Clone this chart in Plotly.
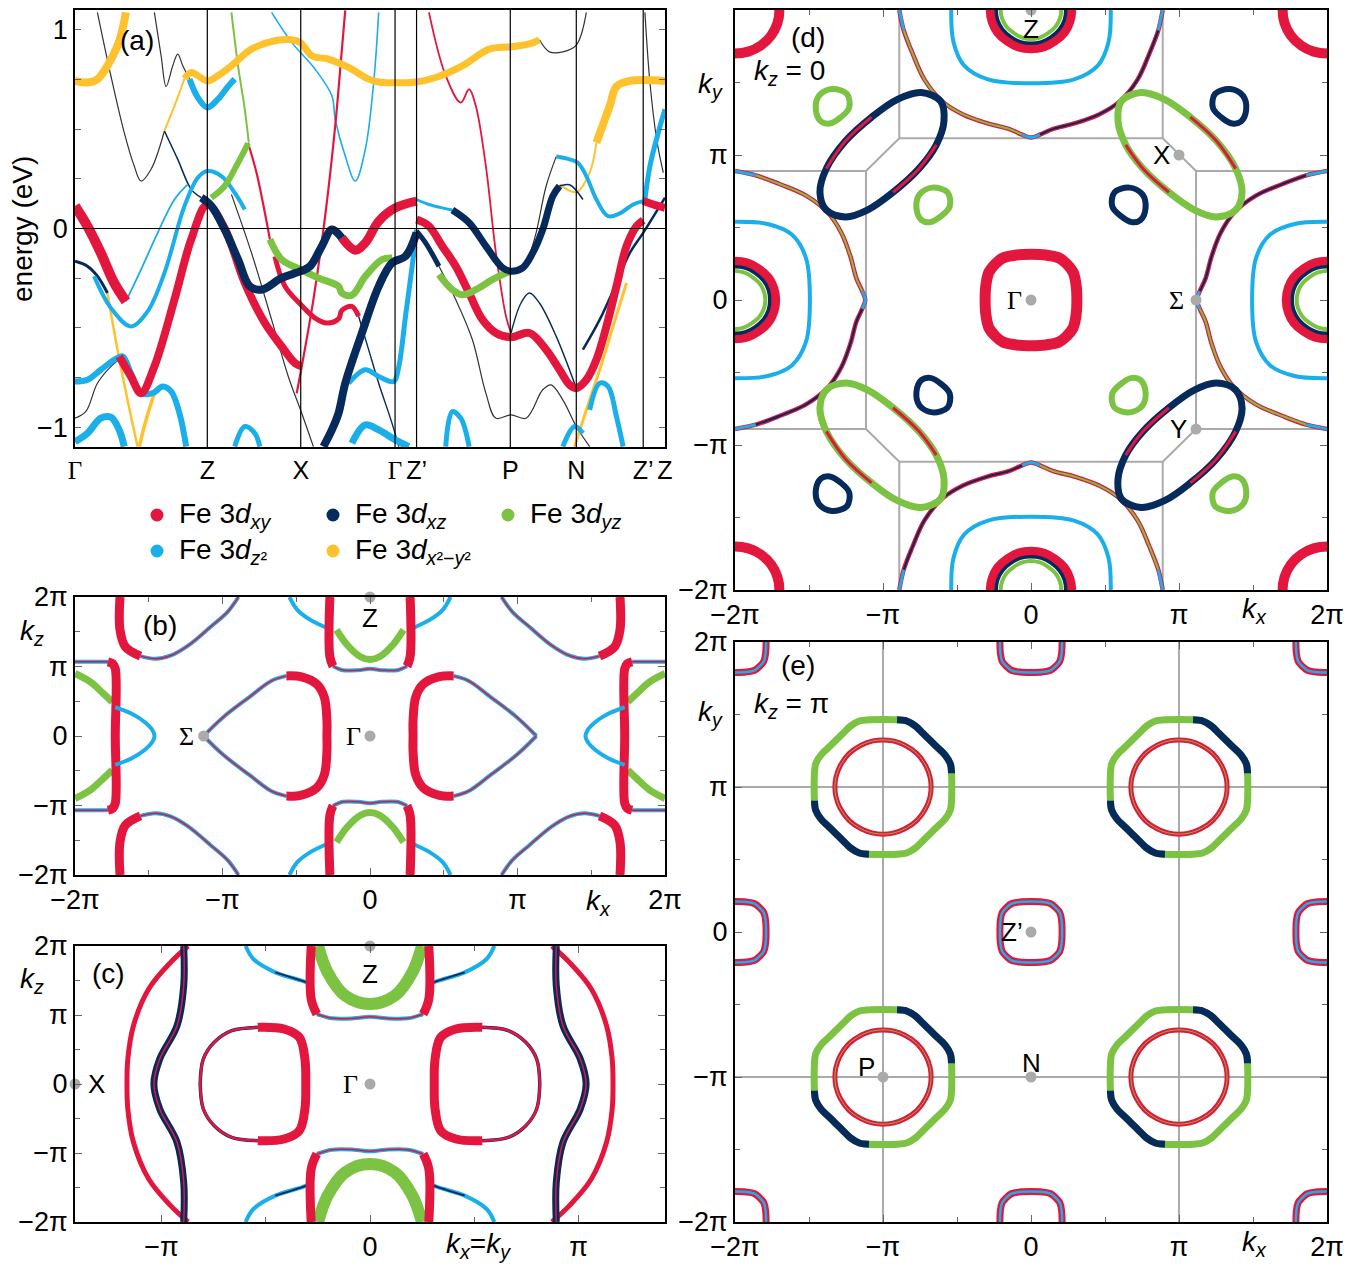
import plotly.graph_objects as go

W, H = 1360, 1268
OFF = 8                      # page body margin of the written html
FW, FH = W - OFF, H - OFF    # figure size so that it fits the window exactly
RED = '#E3173E'
NAVY = '#062A5B'
GREEN = '#7CC243'
CYAN = '#1AAEEA'
YELLOW = '#FEC22E'
GRAY = '#AAAAAA'
THIN = '#333333'
FONT = 'Liberation Sans, Arial, sans-serif'
SERIF = 'Liberation Serif'

# ---------------- panel (a): band structure (k-path units, energy eV) ----------------
kpath_ticks = [0, 131.7, 224.7, 318.6, 340, 433.3, 499, 565.6, 587.3]
kpath_labels = ['Γ', 'Z', 'X', 'Γ', 'Z’', 'P', 'N', 'Z’', 'Z']

y1_k = [0, 12.3, 22.3, 32.3, 42.3, 47.3, 50.7]
y1_e = [0.743, 0.735, 0.752, 0.819, 0.920, 1.004, 1.088]
y2a_k = [89, 99, 109]
y2a_e = [0.491, 0.617, 0.755]
y2_k = [109, 115.7, 122.3, 131.7, 142.3, 155.7, 175.7, 199, 215.7, 224.7, 235.7, 252.3, 272.3,
        292.3, 302.3, 340, 359, 385.6, 412.3, 434, 452.3, 462.3]
y2_e = [0.755, 0.785, 0.769, 0.743, 0.769, 0.819, 0.903, 0.945, 0.950, 0.935, 0.870, 0.853, 0.811,
        0.752, 0.738, 0.738, 0.760, 0.819, 0.903, 0.915, 0.929, 0.950]
y2t_k = [462.3, 472.3, 485.6, 499, 509]
y2t_e = [0.950, 0.889, 0.889, 0.923, 1.088]
y5t_k = [482.3, 499, 512.3, 519]
y5t_e = [0.222, 0.183, 0.281, 0.432]
y5_k = [519, 532.3, 539, 552.3, 587.3]
y5_e = [0.432, 0.617, 0.715, 0.743, 0.743]
l1_k = [22.3, 35.7, 49, 59, 65.7, 75.7, 89]
l1_e = [1.088, 0.769, 0.483, 0.314, 0.239, 0.298, 0.491]
l2_k = [79, 85.7, 90.7, 97.3, 102.3, 107.3, 114]
l2_e = [1.088, 0.870, 0.715, 0.819, 0.878, 0.819, 0.752]
c2_k = [114, 122.3, 131.7, 142.3, 152.3, 159]
c2_e = [0.752, 0.659, 0.609, 0.651, 0.715, 0.752]
c1_k = [19, 35.7, 55.7, 72.3, 89, 109, 122.3, 131.7, 145.7, 159, 169]
c1_e = [-0.240, -0.400, -0.493, -0.417, -0.224, 0.113, 0.256, 0.289, 0.264, 0.180, 0.096]
n1_k = [0, 12.3, 22.3, 32.3]
n1_e = [-0.165, -0.190, -0.240, -0.325]
y3_k = [32.3, 42.3, 52.3, 62.3]
y3_e = [-0.325, -0.610, -0.863, -1.098]
r1_k = [0, 12.3, 25.7, 39, 50.7]
r1_e = [0.113, 0.012, -0.123, -0.274, -0.367]
l4_k = [50.7, 65.7, 82.3, 99, 112.3]
l4_e = [-0.367, -0.207, -0.022, 0.146, 0.222]
l3_k = [89, 102.3, 115.7, 125.7]
l3_e = [0.491, 0.348, 0.197, 0.155]
n2_k = [125.7, 135.7, 149, 162.3, 174, 185.7, 205.7, 224.7, 234, 245.7, 255.7, 265.6]
n2_e = [0.155, 0.113, -0.005, -0.156, -0.291, -0.308, -0.249, -0.215, -0.190, -0.089, -0.005, -0.047]
r3_k = [265.6, 279, 289, 302.3, 319, 340]
r3_e = [-0.047, -0.109, -0.072, 0.037, 0.104, 0.138]
z1_k = [340, 352.3, 365.6, 375.6]
z1_e = [0.146, 0.121, 0.104, 0.093]
n5_k = [375.6, 392.3, 409, 425.6, 434, 445.6, 455.6, 465.6, 475.6, 482.3]
n5_e = [0.093, 0.029, -0.089, -0.198, -0.215, -0.198, -0.123, -0.005, 0.163, 0.214]
n5t_k = [482.3, 492.3, 505.6]
n5t_e = [0.214, 0.220, 0.146]
c3a_k = [449, 459, 469, 479]
c3a_e = [-0.190, -0.022, 0.214, 0.362]
c3_k = [479, 492.3, 500.6, 509, 519, 530.6, 542.3, 555.6, 565.6]
c3_e = [0.362, 0.348, 0.331, 0.264, 0.146, 0.062, 0.076, 0.121, 0.138]
r5_k = [565.6, 575.6, 587.3]
r5_e = [0.138, 0.121, 0.104]
r4_k = [340, 352.3, 365.6, 379, 392.3, 405.6, 419, 434, 452.3, 469, 482.3, 492.3, 499, 509, 519,
        529, 539, 549, 559, 565.6]
r4_e = [0.045, 0.012, -0.089, -0.190, -0.325, -0.459, -0.526, -0.547, -0.526, -0.610, -0.711,
        -0.787, -0.804, -0.762, -0.661, -0.493, -0.291, -0.089, 0.012, 0.042]
n6_k = [340, 349, 362.3]
n6_e = [-0.013, -0.072, -0.190]
l5_k = [362.3, 379, 395.6, 409, 419, 434, 449, 465.6, 474, 485.6, 499, 512.3]
l5_e = [-0.190, -0.358, -0.560, -0.829, -0.955, -0.938, -0.955, -0.812, -0.787, -0.863, -0.997, -1.098]
g3_k = [362.3, 375.6, 385.6, 399, 415.6, 429, 434]
g3_e = [-0.232, -0.308, -0.333, -0.308, -0.257, -0.224, -0.215]
l6_k = [352.3, 369, 384, 392.3, 399, 409, 419, 429, 434]
l6_e = [1.088, 0.769, 0.634, 0.701, 0.617, 0.314, -0.123, -0.442, -0.526]
l7_k = [434, 444, 452.3, 462.3, 479, 499]
l7_e = [-0.526, -0.375, -0.325, -0.375, -0.543, -0.804]
l8_k = [195.7, 215.7, 239, 255.7, 259, 269, 279, 289, 297.3, 302.3]
l8_e = [1.088, 0.937, 0.802, 0.668, 0.550, 0.365, 0.239, 0.399, 0.735, 1.088]
l9_k = [220.7, 225.7, 237.3, 249, 259, 265.7, 269]
l9_e = [-0.829, -0.695, -0.358, 0.062, 0.516, 0.903, 1.098]
l10_k = [155.7, 175.7, 195.7, 212.3, 225.7, 237.3]
l10_e = [0.172, -0.123, -0.459, -0.745, -0.930, -1.098]
g0_k = [155.7, 162.3, 169, 173]
g0_e = [1.088, 0.819, 0.600, 0.432]
g1a_k = [135.7, 149, 162.3, 172.3]
g1a_e = [0.155, 0.214, 0.331, 0.429]
g1b_k = [172.3, 180.7, 189, 194]
g1b_e = [0.429, 0.281, 0.079, -0.055]
g1c_k = [194, 205.7, 224.7, 242.3, 262.3, 265.6, 275.6, 289, 305.6, 315.6]
g1c_e = [-0.055, -0.156, -0.207, -0.249, -0.291, -0.325, -0.336, -0.241, -0.156, -0.148]
r6_k = [199, 209, 224.7, 239, 250.7, 262.3, 265.6, 275.6, 282.3]
r6_e = [-0.140, -0.291, -0.383, -0.451, -0.476, -0.455, -0.413, -0.392, -0.442]
l11_k = [282.3, 292.3, 302.3, 315.6, 322.3]
l11_e = [-0.442, -0.610, -0.779, -0.981, -1.098]
r2_k = [44, 55.7, 65.7, 79, 99, 115.7, 131.7, 149, 169, 189, 205.7, 219, 225.7]
r2_e = [-0.644, -0.745, -0.829, -0.695, -0.358, -0.055, 0.121, 0.000, -0.274, -0.476, -0.594, -0.678, -0.695]
c4_k = [0, 12.3, 25.7, 39, 47.3, 55.7, 65.7, 77.3, 87.3, 95.7, 104, 110.7]
c4_e = [-0.770, -0.762, -0.711, -0.661, -0.644, -0.728, -0.829, -0.829, -0.795, -0.820, -0.930, -1.098]
c5_k = [0, 12.3, 25.7, 35.7, 44, 49]
c5_e = [-1.073, -1.031, -0.955, -0.950, -1.014, -1.098]
l12_k = [0, 10.7, 22.3, 35.7, 49]
l12_e = [-0.955, -0.922, -0.779, -0.695, -0.641]
c6_k = [159, 169, 179, 184]
c6_e = [-1.098, -0.997, -1.031, -1.098]
y4_k = [64, 70.7, 79]
y4_e = [-1.098, -0.964, -0.829]
n3_k = [247.3, 255.7, 262.3, 269, 285.6, 302.3, 315.6, 329, 340]
n3_e = [-1.098, -1.014, -0.930, -0.779, -0.526, -0.291, -0.173, -0.140, -0.022]
c7_k = [272.3, 289, 302.3, 317.3, 322.3, 329, 335.6, 340]
c7_e = [-0.779, -0.711, -0.745, -0.770, -0.695, -0.442, -0.190, -0.005]
c8_k = [275.6, 289, 302.3, 319, 332.3]
c8_e = [-1.081, -0.989, -1.014, -1.065, -1.098]
c9_k = [369, 375.6, 384, 392.3]
c9_e = [-1.098, -0.922, -0.955, -1.098]
c10a_k = [485.6, 497.3, 505.6]
c10a_e = [-1.098, -0.997, -1.031]
c10b_k = [512.3, 522.3, 530.6, 539, 545.6]
c10b_e = [-0.913, -0.779, -0.795, -0.947, -1.098]
y6_k = [497.3, 509, 522.3, 535.6, 549]
y6_e = [-1.098, -0.913, -0.711, -0.493, -0.274]
c11_k = [567.3, 572.3, 580.6, 587.3]
c11_e = [0.146, 0.314, 0.483, 0.600]
l13_k = [567.3, 572.3, 579, 585.6]
l13_e = [1.088, 0.735, 0.449, 0.281]
n7_k = [505.6, 522.3, 539, 552.3, 565.6, 587.3]
n7_e = [-0.610, -0.459, -0.274, -0.123, -0.022, 0.155]

# ---------------- panel (b): kz vs kx (units of pi) ----------------
b_u_x = [-1.695, -1.695, -1.659, -1.556, -1.453, -1.349, -1.231, -1.084, -0.965, -0.892]
b_u_y = [2.0, 1.527, 1.285, 1.150, 1.111, 1.159, 1.304, 1.565, 1.787, 2.0]
b_top_x = [-0.272, -0.272, -0.251, -0.183, -0.080, 0.0]
b_top_y = [2.0, 1.14, 1.005, 0.947, 0.947, 0.966]
b_topg_x = [-0.227, -0.154, -0.065, 0.0]
b_topg_y = [1.527, 1.309, 1.14, 1.101]
b_topc_x = [-0.546, -0.493, -0.404, -0.272]
b_topc_y = [2.0, 1.816, 1.671, 1.536]
b_side_x = [-1.777, -1.745, -1.727, -1.727]
b_side_y = [1.068, 1.040, 0.97, 0.0]
b_sideg_x = [-2.0, -1.896, -1.807, -1.748]
b_sideg_y = [0.899, 0.778, 0.609, 0.488]
b_sidec_x = [-1.727, -1.615, -1.526, -1.473, -1.461]
b_sidec_y = [0.415, 0.319, 0.198, 0.077, 0.0]
b_oval_x = [-1.128, -0.995, -0.818, -0.670, -0.567, -0.464, -0.360, -0.310, -0.292, -0.292]
b_oval_y = [0.0, 0.271, 0.560, 0.792, 0.865, 0.850, 0.744, 0.560, 0.222, 0.0]

# ---------------- panel (c): kz vs kx=ky ----------------
c_outer_x = [-0.872, -0.956, -1.061, -1.134, -1.161, -1.165]
c_outer_y = [2.0, 1.763, 1.377, 0.845, 0.362, 0.0]
c_navy_x = [-0.893, -0.893, -0.925, -1.008, -1.036]
c_navy_y = [2.0, 1.425, 0.845, 0.362, 0.0]
c_oval_x = [-0.814, -0.799, -0.747, -0.663, -0.538, -0.412, -0.339, -0.312, -0.308]
c_oval_y = [0.0, 0.362, 0.604, 0.773, 0.821, 0.797, 0.676, 0.362, 0.0]
c_top_x = [-0.282, -0.282, -0.255, -0.182, -0.077, 0.0]
c_top_y = [2.0, 1.232, 1.014, 0.952, 0.952, 0.976]
c_topg_x = [-0.249, -0.203, -0.119, 0.0]
c_topg_y = [2.0, 1.618, 1.28, 1.159]
c_topc_x = [-0.596, -0.559, -0.454, -0.328, -0.282]
c_topc_y = [2.0, 1.812, 1.618, 1.498, 1.449]

# ---------------- panel (d): ky vs kx at kz=0 ----------------
d_bz = [0.89, 1.115]
d_gamma_x = [0.31, 0.305, 0.285, 0.24, 0.19, 0.10, 0.0]
d_gamma_y = [0.0, 0.10, 0.19, 0.25, 0.29, 0.31, 0.315]
d_cyan_x = [-0.539, -0.524, -0.451, -0.291, 0.0]
d_cyan_y = [2.0, 1.780, 1.616, 1.521, 1.494]
d_arm_x = [-0.89, -0.86, -0.80, -0.72, -0.60, -0.46, -0.30, -0.15, -0.06, 0.0]
d_arm_y = [2.0, 1.86, 1.70, 1.52, 1.37, 1.28, 1.22, 1.18, 1.14, 1.12]
d_ell_x = [-0.611, -0.588, -0.640, -0.757, -0.932, -1.106, -1.252, -1.383, -1.426, -1.383,
           -1.252, -1.077, -0.902, -0.742, -0.611]
d_ell_y = [1.371, 1.234, 1.070, 0.906, 0.743, 0.620, 0.573, 0.620, 0.743, 0.906,
           1.098, 1.261, 1.384, 1.431, 1.371]
d_pocket_r = [0.66, 1.34]
d_pocket_dx = [-0.096, 0.006, 0.093, 0.114, 0.079, 0.020, -0.052, -0.111, -0.096]
d_pocket_dy = [0.082, 0.115, 0.068, -0.027, -0.109, -0.123, -0.082, -0.014, 0.082]
d_edge_x = [0.275, 0.262, 0.225, 0.16, 0.085, 0.0]
d_edge_y = [0.0, 0.082, 0.155, 0.215, 0.255, 0.268]
d_edge1_x = [0.235, 0.225, 0.19, 0.135, 0.07, 0.0]
d_edge1_y = [0.0, 0.07, 0.135, 0.185, 0.22, 0.23]
d_edge2_x = [0.205, 0.195, 0.165, 0.115, 0.06, 0.0]
d_edge2_y = [0.0, 0.06, 0.115, 0.16, 0.19, 0.2]
d_corner_x = [0.30, 0.287, 0.245, 0.175, 0.09, 0.0]
d_corner_y = [0.0, 0.09, 0.175, 0.245, 0.287, 0.30]

# ---------------- panel (e): ky vs kx at kz=pi ----------------
e_lines = [-1, 1]
e_ring_x = [0.465, 0.463, 0.455, 0.42, 0.37, 0.32, 0.27, 0.22, 0.16, 0.095, 0.0]
e_ring_y = [0.0, 0.095, 0.16, 0.22, 0.27, 0.32, 0.37, 0.42, 0.455, 0.463, 0.465]
e_inner_x = [0.325, 0.318, 0.29, 0.23, 0.145, 0.067, 0.0]
e_inner_y = [0.0, 0.067, 0.145, 0.23, 0.29, 0.318, 0.325]
e_zp_x = [0.21, 0.207, 0.195, 0.167, 0.133, 0.076, 0.0]
e_zp_y = [0.0, 0.076, 0.133, 0.167, 0.195, 0.207, 0.21]
e_ring_centers = [(-1, 1), (1, 1), (-1, -1), (1, -1)]
e_zp_centers = [(0, 0), (0, 2), (0, -2), (2, 0), (-2, 0), (2, 2), (2, -2), (-2, 2), (-2, -2)]

# ------------------------------------------------------------------
fig = go.Figure()


def add(ax, xs, ys, color, width, shape='spline'):
    fig.add_trace(go.Scatter(x=list(xs), y=list(ys), mode='lines',
                             line=dict(color=color, width=width, shape=shape, smoothing=1.0),
                             xaxis='x' + ax, yaxis='y' + ax, hoverinfo='skip', showlegend=False))


def dot(ax, xs, ys):
    fig.add_trace(go.Scatter(x=xs, y=ys, mode='markers', marker=dict(color=GRAY, size=11),
                             cliponaxis=False, xaxis='x' + ax, yaxis='y' + ax,
                             hoverinfo='skip', showlegend=False))


def mirror_x(xs, ys):
    return list(xs) + [-x for x in xs[-2::-1]], list(ys) + list(ys[-2::-1])


def mirror_y(xs, ys):
    return list(xs) + list(xs[-2::-1]), list(ys) + [-y for y in ys[-2::-1]]


def loop4(qx, qy):
    X = list(qx) + [-x for x in qx[-2::-1]] + [-x for x in qx[1:]] + [x for x in qx[-2::-1]]
    Y = list(qy) + list(qy[-2::-1]) + [-y for y in qy[1:]] + [-y for y in qy[-2::-1]]
    return X, Y


def shift(xs, ys, cx, cy):
    return [x + cx for x in xs], [y + cy for y in ys]


# ---------------- draw (a) ----------------
A = ''
for k, e, c, w in [
    (l1_k, l1_e, THIN, 1.2), (l2_k, l2_e, THIN, 1.2), (l3_k, l3_e, NAVY, 1.5), (l4_k, l4_e, CYAN, 1.8),
    (y2a_k, y2a_e, YELLOW, 2), (y2t_k, y2t_e, THIN, 1.2), (y5t_k, y5t_e, YELLOW, 2),
    (l5_k, l5_e, THIN, 1.2), (l6_k, l6_e, RED, 1.8), (l7_k, l7_e, NAVY, 1.4), (l8_k, l8_e, CYAN, 1.6),
    (l9_k, l9_e, RED, 2.2), (l10_k, l10_e, THIN, 1.2), (g0_k, g0_e, GREEN, 2), (g1b_k, g1b_e, RED, 2.2),
    (l11_k, l11_e, NAVY, 1.4), (l12_k, l12_e, THIN, 1.2), (y3_k, y3_e, YELLOW, 2.5), (y4_k, y4_e, YELLOW, 3.5),
    (n1_k, n1_e, NAVY, 3), (c3a_k, c3a_e, THIN, 1.2), (l13_k, l13_e, THIN, 1.2), (n7_k, n7_e, NAVY, 2.5),
    (z1_k, z1_e, CYAN, 3), (y6_k, y6_e, YELLOW, 3), (n5t_k, n5t_e, NAVY, 1.5),
]:
    add(A, k, e, c, w)
for k, e, c, w in [
    (c1_k, c1_e, CYAN, 4), (c2_k, c2_e, CYAN, 6), (c3_k, c3_e, CYAN, 4), (c4_k, c4_e, CYAN, 6),
    (c5_k, c5_e, CYAN, 7), (c6_k, c6_e, CYAN, 5), (c7_k, c7_e, CYAN, 5), (c8_k, c8_e, CYAN, 7),
    (c9_k, c9_e, CYAN, 5), (c10a_k, c10a_e, CYAN, 5), (c10b_k, c10b_e, CYAN, 5), (c11_k, c11_e, CYAN, 5),
    (y1_k, y1_e, YELLOW, 8), (y2_k, y2_e, YELLOW, 7), (y5_k, y5_e, YELLOW, 8),
    (r1_k, r1_e, RED, 10), (r2_k, r2_e, RED, 8), (r3_k, r3_e, RED, 9), (r4_k, r4_e, RED, 8),
    (r5_k, r5_e, RED, 8), (r6_k, r6_e, RED, 5),
    (g1a_k, g1a_e, GREEN, 6), (g1c_k, g1c_e, GREEN, 7), (g3_k, g3_e, GREEN, 7),
    (n2_k, n2_e, NAVY, 8), (n3_k, n3_e, NAVY, 8), (n5_k, n5_e, NAVY, 7), (n6_k, n6_e, NAVY, 5),
]:
    add(A, k, e, c, w)

# ---------------- draw (b) ----------------
B = '2'
for sx in (1, -1):
    for sy in (1, -1):
        X = [sx * x for x in b_u_x]; Y = [sy * y for y in b_u_y]
        add(B, X[3:], Y[3:], CYAN, 4); add(B, X[3:], Y[3:], RED, 1.5)
        add(B, X[:4], Y[:4], RED, 9)
        gx = [sx * x for x in b_sideg_x]; gy = [sy * y for y in b_sideg_y]
        add(B, gx, gy, GREEN, 7)
        add(B, [sx * -2.0, sx * b_side_x[0]], [sy * b_side_y[0]] * 2, CYAN, 4, 'linear')
        add(B, [sx * -2.0, sx * b_side_x[0]], [sy * b_side_y[0]] * 2, RED, 1.5, 'linear')
        add(B, [sx * x for x in b_topc_x], [sy * y for y in b_topc_y], CYAN, 4)
for sy in (1, -1):
    ux, uy = mirror_x(b_top_x, b_top_y)
    Y = [sy * y for y in uy]
    add(B, ux[2:-2], Y[2:-2], CYAN, 4); add(B, ux[2:-2], Y[2:-2], RED, 1.5)
    add(B, ux[:3], Y[:3], RED, 9); add(B, ux[-3:], Y[-3:], RED, 9)
    gx, gy = mirror_x(b_topg_x, b_topg_y)
    add(B, gx, [sy * y for y in gy], GREEN, 7)
for sx in (1, -1):
    fx, fy = mirror_y(b_side_x, b_side_y)
    add(B, [sx * x for x in fx], fy, RED, 9)
    cx, cy = mirror_y(b_sidec_x, b_sidec_y)
    add(B, [sx * x for x in cx], cy, CYAN, 4)
    ox, oy = mirror_y(b_oval_x, b_oval_y)
    ox = [sx * x for x in ox]
    n = len(ox)
    add(B, ox[:5], oy[:5], CYAN, 4); add(B, ox[:5], oy[:5], RED, 1.5)
    add(B, ox[n - 5:], oy[n - 5:], CYAN, 4); add(B, ox[n - 5:], oy[n - 5:], RED, 1.5)
    add(B, ox[4:n - 4], oy[4:n - 4], RED, 9)
dot(B, [0, 0, b_oval_x[0]], [2, 0, 0])

# ---------------- draw (c) ----------------
C = '3'
for sx in (1, -1):
    ox, oy = mirror_y(c_outer_x, c_outer_y)
    add(C, [sx * x for x in ox], oy, RED, 5)
    nx, ny = mirror_y(c_navy_x, c_navy_y)
    add(C, [sx * x for x in nx], ny, NAVY, 7)
    add(C, [sx * x for x in nx], ny, RED, 1.5)
    vx, vy = mirror_y(c_oval_x, c_oval_y)
    vx = [sx * x for x in vx]
    n = len(vx)
    add(C, vx[:5], vy[:5], NAVY, 3.5); add(C, vx[:5], vy[:5], RED, 2.5)
    add(C, vx[n - 5:], vy[n - 5:], NAVY, 3.5); add(C, vx[n - 5:], vy[n - 5:], RED, 2.5)
    add(C, vx[4:n - 4], vy[4:n - 4], RED, 9)
    for sy in (1, -1):
        add(C, [sx * x for x in c_topc_x], [sy * y for y in c_topc_y], CYAN, 4)
        add(C, [sx * x for x in c_topc_x[2:]], [sy * y for y in c_topc_y[2:]], NAVY, 2)
for sy in (1, -1):
    gx, gy = mirror_x(c_topg_x, c_topg_y)
    add(C, gx, [sy * y for y in gy], GREEN, 12)
    ux, uy = mirror_x(c_top_x, c_top_y)
    Y = [sy * y for y in uy]
    add(C, ux[2:-2], Y[2:-2], CYAN, 4); add(C, ux[2:-2], Y[2:-2], RED, 1.5)
    add(C, ux[:3], Y[:3], RED, 9); add(C, ux[-3:], Y[-3:], RED, 9)
dot(C, [0, 0, -1.4142], [2, 0, 0])

# ---------------- draw (d) ----------------
D = '4'
cx_, cy_ = mirror_x(d_cyan_x, d_cyan_y)
ax_, ay_ = mirror_x(d_arm_x, d_arm_y)
orients = [lambda x, y: (x, y), lambda x, y: (x, -y), lambda x, y: (y, x), lambda x, y: (-y, x)]
for f in orients:
    P = [f(x, y) for x, y in zip(cx_, cy_)]
    add(D, [p[0] for p in P], [p[1] for p in P], CYAN, 4)
for f in orients:
    P = [f(x, y) for x, y in zip(ax_, ay_)]
    X = [p[0] for p in P]; Y = [p[1] for p in P]
    add(D, X, Y, RED, 4.5)
    for seg in (slice(1, 9), slice(10, 18)):
        xs = X[seg]; ys = Y[seg]
        col = GREEN if xs[len(xs) // 2] * ys[len(ys) // 2] < 0 else NAVY
        add(D, xs, ys, col, 2)
    add(D, X[0:2], Y[0:2], CYAN, 3); add(D, X[-2:], Y[-2:], CYAN, 3)
    add(D, X[8:11], Y[8:11], CYAN, 3)
for sx in (1, -1):
    for sy in (1, -1):
        col = GREEN if sx * sy > 0 else NAVY
        ex = [-sx * x for x in d_ell_x]; ey = [sy * y for y in d_ell_y]
        add(D, ex, ey, col, 7)
        add(D, ex[2:5], ey[2:5], RED, 3); add(D, ex[9:12], ey[9:12], RED, 3)
        pcol = GREEN if sx * sy > 0 else NAVY
        for r in d_pocket_r:
            ccx = -sx * r; ccy = sy * r
            add(D, [ccx - sx * dx for dx in d_pocket_dx], [ccy + sy * dy for dy in d_pocket_dy], pcol, 6)
gx, gy = loop4(d_gamma_x, d_gamma_y)
add(D, gx, gy, RED, 11)
for (px0, py0) in [(0, 2), (0, -2), (2, 0), (-2, 0)]:
    X, Y = shift(*loop4(d_edge_x, d_edge_y), px0, py0)
    add(D, X, Y, RED, 9)
    X, Y = shift(*loop4(d_edge1_x, d_edge1_y), px0, py0)
    add(D, X, Y, NAVY, 3.5)
    X, Y = shift(*loop4(d_edge2_x, d_edge2_y), px0, py0)
    add(D, X, Y, GREEN, 4)
for (px0, py0) in [(2, 2), (2, -2), (-2, 2), (-2, -2)]:
    X, Y = shift(*loop4(d_corner_x, d_corner_y), px0, py0)
    add(D, X, Y, RED, 10)
dot(D, [0, 0, 1.0, 1.115, 1.115], [2, 0, 1.0, 0, -0.89])

# ---------------- draw (e) ----------------
E = '5'
rx, ry = loop4(e_ring_x, e_ring_y)
ix, iy = loop4(e_inner_x, e_inner_y)
zx, zy = loop4(e_zp_x, e_zp_y)
for (ccx, ccy) in e_ring_centers:
    X, Y = shift(rx, ry, ccx, ccy)
    add(E, X, Y, GREEN, 7)
    add(E, [x + ccx for x in e_ring_x[1:-1]], [y + ccy for y in e_ring_y[1:-1]], NAVY, 7)
    add(E, [-x + ccx for x in e_ring_x[1:-1]], [-y + ccy for y in e_ring_y[1:-1]], NAVY, 7)
    X, Y = shift(ix, iy, ccx, ccy)
    add(E, X, Y, RED, 5)
    add(E, X, Y, GREEN, 1)
for (ccx, ccy) in e_zp_centers:
    X, Y = shift(zx, zy, ccx, ccy)
    add(E, X, Y, RED, 7)
    add(E, X, Y, CYAN, 2.5)
dot(E, [0, -1, 0], [0, -1, -1])

# ---------------- layout (positions given in window pixels) ----------------
def fx_(px):
    return (px - OFF) / FW


def fy_(py):
    return 1 - (py - OFF) / FH


def dom_x(a, b):
    return [fx_(a), fx_(b)]


def dom_y(top, bot):
    return [fy_(bot), fy_(top)]


PI_T = ['−2π', '−π', '0', 'π', '2π']
tickfont = dict(family=FONT, size=27, color='black')
tickfont_a = dict(family=FONT, size=25, color='black')


def kax(domain, anchor, rng, vals, texts, minor_vals):
    return dict(domain=domain, anchor=anchor, range=rng, tickmode='array', tickvals=vals,
                ticktext=texts, ticks='inside', ticklen=7, tickwidth=1.2, tickcolor='#666',
                minor=dict(tickmode='array', tickvals=minor_vals, ticks='inside', ticklen=5,
                           tickwidth=1.2, tickcolor='#666'),
                showline=True, linecolor='black', linewidth=2, mirror='allticks',
                showgrid=False, zeroline=False, tickfont=tickfont, automargin=False)


XA = dom_x(75, 665)
XD = dom_x(735, 1327)
gam = '<span style="font-family:%s">Γ</span>' % SERIF
layout = dict(
    width=FW, height=FH, margin=dict(l=0, r=0, t=0, b=0, autoexpand=False),
    paper_bgcolor='white', plot_bgcolor='white', font=dict(family=FONT, size=24, color='black'),
    xaxis=dict(domain=XA, anchor='y', range=[0, 587.3], tickmode='array', tickvals=kpath_ticks,
               ticktext=[gam if t == 'Γ' else t for t in kpath_labels], ticks='',
               showline=True, linecolor='black', linewidth=1.5, mirror=True,
               showgrid=False, zeroline=False, tickfont=tickfont_a, automargin=False),
    yaxis=dict(domain=dom_y(10, 447), anchor='x', range=[-1.1, 1.1], tickmode='array',
               tickvals=[-1, 0, 1], ticktext=['−1', '0', '1'], ticks='inside', ticklen=6,
               tickcolor='#666', minor=dict(tickmode='array', tickvals=[-0.75, -0.5, -0.25, 0.25, 0.5, 0.75],
                                            ticks='inside', ticklen=6, tickcolor='#666'),
               showline=True, linecolor='black', linewidth=1.5, mirror='allticks',
               showgrid=False, zeroline=False, tickfont=dict(family=FONT, size=27, color='black'),
               automargin=False),
    xaxis2=kax(XA, 'y2', [-2, 2], [-2, -1, 0, 1, 2], PI_T, [-1.5, -0.5, 0.5, 1.5]),
    yaxis2=kax(dom_y(597, 875), 'x2', [-2, 2], [-2, -1, 0, 1, 2], PI_T, [-1.5, -0.5, 0.5, 1.5]),
    xaxis3=kax(XA, 'y3', [-1.4142, 1.4142], [-1, 0, 1], ['−π', '0', 'π'], [-0.5, 0.5]),
    yaxis3=kax(dom_y(946, 1222), 'x3', [-2, 2], [-2, -1, 0, 1, 2], PI_T, [-1.5, -0.5, 0.5, 1.5]),
    xaxis4=kax(XD, 'y4', [-2, 2], [-2, -1, 0, 1, 2], PI_T, [-1.5, -0.5, 0.5, 1.5]),
    yaxis4=kax(dom_y(10, 590), 'x4', [-2, 2], [-2, -1, 0, 1, 2], PI_T, [-1.5, -0.5, 0.5, 1.5]),
    xaxis5=kax(XD, 'y5', [-2, 2], [-2, -1, 0, 1, 2], PI_T, [-1.5, -0.5, 0.5, 1.5]),
    yaxis5=kax(dom_y(642, 1222), 'x5', [-2, 2], [-2, -1, 0, 1, 2], PI_T, [-1.5, -0.5, 0.5, 1.5]),
)

shapes = []
# (a) symmetry lines and Fermi level
for kv in kpath_ticks[1:-1]:
    shapes.append(dict(type='line', xref='x', yref='y domain', x0=kv, x1=kv, y0=0, y1=1,
                       line=dict(color='black', width=1.2), layer='above'))
shapes.append(dict(type='line', xref='x domain', yref='y', x0=0, x1=1, y0=0, y1=0,
                   line=dict(color='black', width=1.2), layer='above'))
# (d) Brillouin-zone boundary lines
a_, b_ = d_bz
oct_pts = [(-a_, b_), (a_, b_), (b_, a_), (b_, -a_), (a_, -b_), (-a_, -b_), (-b_, -a_), (-b_, a_), (-a_, b_)]
for p, q in zip(oct_pts[:-1], oct_pts[1:]):
    shapes.append(dict(type='line', xref='x4', yref='y4', x0=p[0], y0=p[1], x1=q[0], y1=q[1],
                       line=dict(color=GRAY, width=2), layer='below'))
for s in (1, -1):
    for t in (1, -1):
        shapes.append(dict(type='line', xref='x4', yref='y4', x0=s * a_, x1=s * a_, y0=t * b_, y1=t * 2,
                           line=dict(color=GRAY, width=2), layer='below'))
        shapes.append(dict(type='line', xref='x4', yref='y4', x0=s * b_, x1=s * 2, y0=t * a_, y1=t * a_,
                           line=dict(color=GRAY, width=2), layer='below'))
# (e) grid lines
for v in e_lines:
    shapes.append(dict(type='line', xref='x5', yref='y5', x0=v, x1=v, y0=-2, y1=2,
                       line=dict(color=GRAY, width=2), layer='below'))
    shapes.append(dict(type='line', xref='x5', yref='y5', x0=-2, x1=2, y0=v, y1=v,
                       line=dict(color=GRAY, width=2), layer='below'))
# legend dots
legend_items = [(157, 515, RED), (333, 515, NAVY), (508, 515, GREEN), (157, 551, CYAN), (333, 551, YELLOW)]
for (lx, ly, lc) in legend_items:
    shapes.append(dict(type='circle', xref='paper', yref='paper', xsizemode='pixel', ysizemode='pixel',
                       xanchor=fx_(lx), yanchor=fy_(ly), x0=-6.5, x1=6.5, y0=-6.5, y1=6.5,
                       fillcolor=lc, line=dict(width=0)))
layout['shapes'] = shapes

ann = []


def pa(x, y, text, xanchor='center', size=28, angle=0):
    ann.append(dict(xref='paper', yref='paper', x=fx_(x), y=fy_(y), text=text, showarrow=False,
                    xanchor=xanchor, yanchor='middle', textangle=angle,
                    font=dict(family=FONT, size=size, color='black')))


def da(ax, x, y, text, xanchor='center', yanchor='middle'):
    ann.append(dict(xref='x' + ax, yref='y' + ax, x=x, y=y, text=text, showarrow=False,
                    xanchor=xanchor, yanchor=yanchor, font=dict(family=FONT, size=26, color='black')))


pa(22, 229, 'energy (eV)', angle=-90)
pa(137, 40, '(a)')
legend_texts = ['Fe 3<i>d</i><sub><i>xy</i></sub>', 'Fe 3<i>d</i><sub><i>xz</i></sub>',
                'Fe 3<i>d</i><sub><i>yz</i></sub>', 'Fe 3<i>d</i><sub><i>z</i>²</sub>',
                'Fe 3<i>d</i><sub><i>x</i>²−<i>y</i>²</sub>']
for (lx, ly, lc), t in zip(legend_items, legend_texts):
    pa(lx + 20, ly, t, xanchor='left')
pa(160, 625, '(b)')
pa(32, 632, '<i>k</i><sub><i>z</i></sub>')
pa(598, 902, '<i>k</i><sub><i>x</i></sub>')
pa(108, 973, '(c)')
pa(32, 980, '<i>k</i><sub><i>z</i></sub>')
pa(478, 1245, '<i>k</i><sub><i>x</i></sub>=<i>k</i><sub><i>y</i></sub>')
pa(808, 37, '(d)')
pa(752, 72, '<i>k</i><sub><i>z</i></sub> = 0', xanchor='left')
pa(710, 85, '<i>k</i><sub><i>y</i></sub>')
pa(1254, 610, '<i>k</i><sub><i>x</i></sub>')
pa(798, 665, '(e)')
pa(752, 705, '<i>k</i><sub><i>z</i></sub> = π', xanchor='left')
pa(710, 713, '<i>k</i><sub><i>y</i></sub>')
pa(1254, 1243, '<i>k</i><sub><i>x</i></sub>')

sig = '<span style="font-family:%s">Σ</span>' % SERIF
da(B, 0, 1.7, 'Z')
da(B, -1.18, 0, sig, xanchor='right')
da(B, -0.05, 0, gam, xanchor='right')
da(C, 0, 1.6, 'Z')
da(C, -1.36, 0, 'X', xanchor='left')
da(C, -0.05, 0, gam, xanchor='right')
da(D, 0, 1.87, 'Z')
da(D, 0.95, 1.0, 'X', xanchor='right')
da(D, 1.05, 0, sig, xanchor='right')
da(D, -0.05, 0, gam, xanchor='right')
da(D, 1.07, -0.89, 'Y', xanchor='right')
da(E, -0.04, 0, 'Z’', xanchor='right')
da(E, -1.04, -0.93, 'P', xanchor='right')
da(E, 0, -0.9, 'N')
layout['annotations'] = ann

fig.update_layout(**layout)
fig.write_html('out.html')
